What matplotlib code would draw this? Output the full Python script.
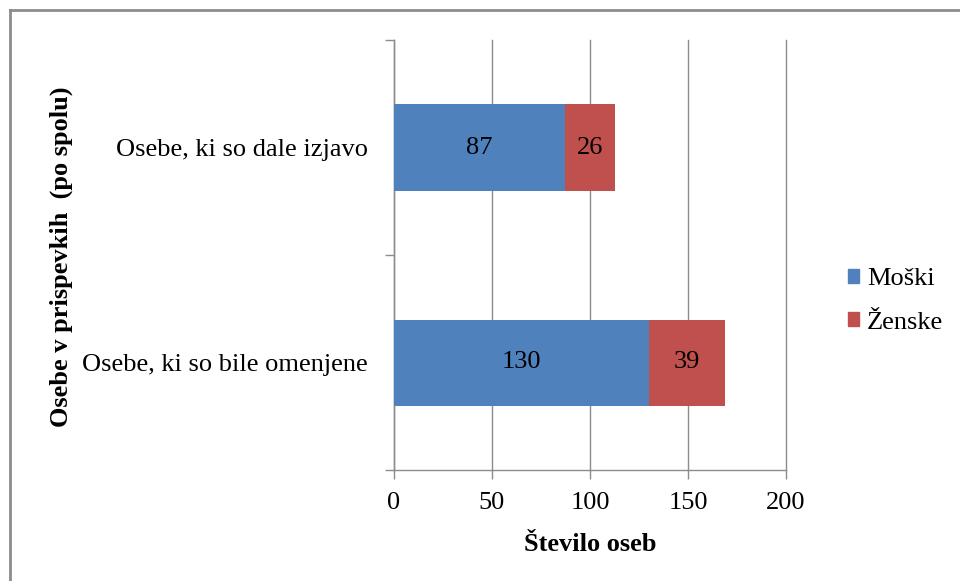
import matplotlib
matplotlib.use("Agg")
import matplotlib.pyplot as plt
from matplotlib.patches import Patch
from matplotlib.lines import Line2D

plt.rcParams['font.family'] = ['Liberation Serif', 'DejaVu Serif']

categories = ["Osebe, ki so bile omenjene", "Osebe, ki so dale izjavo"]
series_names = ["Moški", "Ženske"]
moski = [130, 87]
zenske = [39, 26]
x_ticks = [0, 50, 100, 150, 200]
colors = ["#4F81BD", "#C0504D"]
axis_gray = "#8C8C8C"
fs = 19

fig = plt.figure(figsize=(9.6, 5.81), dpi=100)
ax = fig.add_axes([394 / 960, 1 - 470 / 581, (786 - 394) / 960, (470 - 40) / 581])

ypos = list(range(len(categories)))
bar_h = 0.4
b1 = ax.barh(ypos, moski, height=bar_h, color=colors[0], zorder=3)
b2 = ax.barh(ypos, zenske, left=moski, height=bar_h, color=colors[1], zorder=3)

for bars in (b1, b2):
    ax.bar_label(bars, labels=[str(int(b.get_width())) for b in bars],
                 label_type='center', fontsize=fs, color='black')

ax.set_xlim(0, 200)
ax.set_ylim(-0.5, 1.5)
ax.set_xticks(x_ticks)
ax.set_xticklabels([str(t) for t in x_ticks], fontsize=fs)

# category boundaries carry the tick marks, category centres carry the labels
ax.set_yticks([-0.5, 0.5, 1.5])
ax.set_yticklabels([])
ax.set_yticks(ypos, minor=True)
ax.set_yticklabels(categories, minor=True, fontsize=fs)
ax.tick_params(axis='y', which='major', length=6.5, width=1, color=axis_gray, direction='out')
ax.tick_params(axis='y', which='minor', length=0, pad=19)
ax.tick_params(axis='x', length=6.5, width=1, color=axis_gray, direction='out', pad=9)

ax.grid(axis='x', color=axis_gray, linewidth=1, zorder=0)
for gl in ax.get_xgridlines():
    gl.set_clip_on(False)
ax.set_axisbelow(True)
for side in ('top', 'right'):
    ax.spines[side].set_visible(False)
for side in ('left', 'bottom'):
    ax.spines[side].set_color(axis_gray)
    ax.spines[side].set_linewidth(1)

ax.set_xlabel("Število oseb", fontsize=fs, fontweight='bold', labelpad=14)
fig.text(61 / 960, 1 - 257 / 581, "Osebe v prispevkih  (po spolu)", rotation=90,
         fontsize=fs, fontweight='bold', ha='center', va='center')

handles = [Patch(facecolor=c, edgecolor=c) for c in colors]
fig.legend(handles, series_names, loc='center left',
           bbox_to_anchor=(848 / 960, 1 - 301 / 581), frameon=False, fontsize=fs,
           handlelength=0.42, handleheight=0.42, handletextpad=0.3,
           labelspacing=0.8, borderpad=0, borderaxespad=0)

# outer chart frame (top and left edges)
fig.add_artist(Line2D([10 / 960, 1], [1 - 10 / 581, 1 - 10 / 581],
                      transform=fig.transFigure, color="#8C8C8C", linewidth=2))
fig.add_artist(Line2D([10 / 960, 10 / 960], [0, 1 - 10 / 581],
                      transform=fig.transFigure, color="#8C8C8C", linewidth=2))

fig.savefig("out.png", dpi=100)
